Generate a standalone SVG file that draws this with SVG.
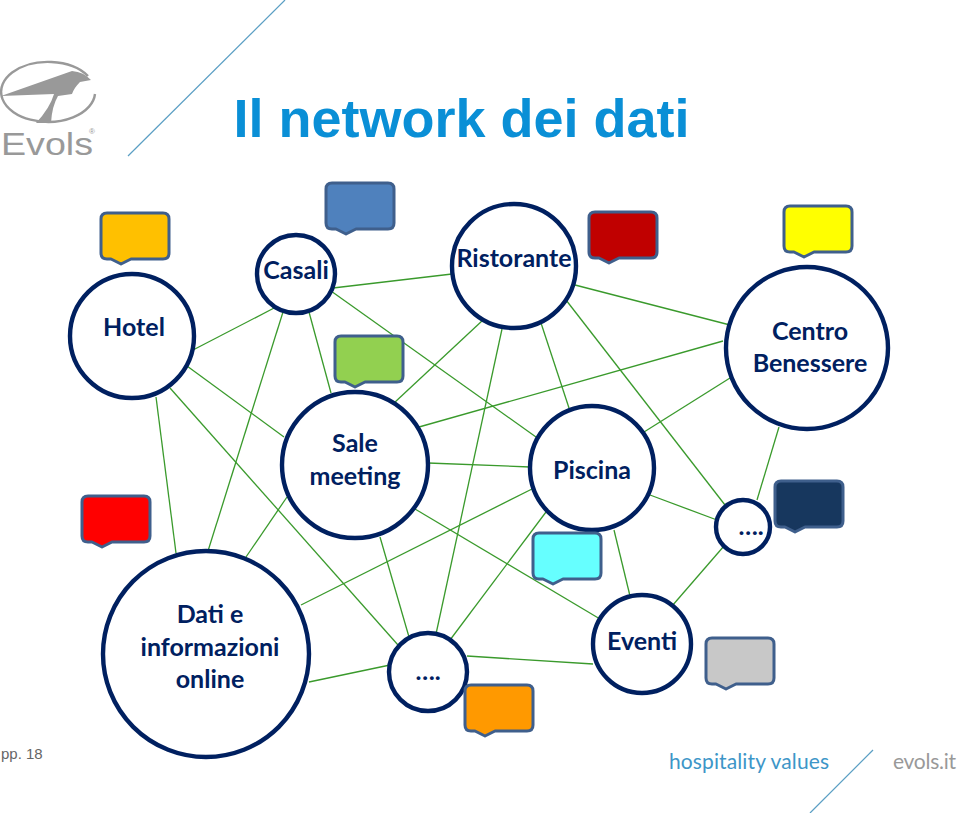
<svg xmlns="http://www.w3.org/2000/svg" width="960" height="813" viewBox="0 0 960 813">
<style>
.n{fill:#fff;stroke:#002060;stroke-width:4.4}
.e line{stroke:#3a9a2c;stroke-width:1.3}
.t{font-family:"Lato","Open Sans",sans-serif;font-weight:700;font-size:25px;fill:#002060;text-anchor:middle}
.c{stroke:#3f5f8c;stroke-width:3;stroke-linejoin:round}
.d{stroke:#5b9fc4;stroke-width:1.2}
</style>
<defs>
<path id="cb" d="M6 0H62Q68 0 68 6V40Q68 46 62 46H30L20 51L10 46H6Q0 46 0 40V6Q0 0 6 0Z"/>
</defs>
<rect width="960" height="813" fill="#fff"/>
<g id="logo">
<path d="M95 94A47 30 0 1 1 88 76" fill="none" stroke="#999" stroke-width="2.4"/>
<path d="M1 96L72 71Q84 72 91 80L80 82Q74 88 72 94L58 96Q52 106 51 123L36 123Q50 108 54 94Z" fill="#999"/>
<text x="1" y="155" font-family="Liberation Sans,sans-serif" font-size="31" fill="#999" textLength="92" lengthAdjust="spacingAndGlyphs">Evols</text>
<text x="92" y="134" font-family="Liberation Sans,sans-serif" font-size="8" fill="#999" text-anchor="middle">®</text>
</g>
<line class="d" x1="128" y1="156" x2="285" y2="0"/>
<text id="title" x="461.500" y="137" font-family="Liberation Sans,sans-serif" font-weight="700" font-size="54" fill="#0a8fd6" text-anchor="middle">Il network dei dati</text>
<g id="connectors" class="e">
<line x1="193" y1="350" x2="276" y2="307"/>
<line x1="187" y1="366" x2="284" y2="437"/>
<line x1="170" y1="388" x2="398" y2="645"/>
<line x1="156" y1="397" x2="176" y2="553"/>
<line x1="333" y1="288" x2="452" y2="274"/>
<line x1="309" y1="312" x2="331" y2="393"/>
<line x1="331" y1="291" x2="536" y2="437"/>
<line x1="283" y1="312" x2="208" y2="551"/>
<line x1="575" y1="285" x2="730" y2="325"/>
<line x1="483" y1="320" x2="394" y2="403"/>
<line x1="541" y1="323" x2="569" y2="408"/>
<line x1="566" y1="300" x2="725" y2="505"/>
<line x1="502" y1="329" x2="436" y2="634"/>
<line x1="723" y1="341" x2="419" y2="427"/>
<line x1="730" y1="378" x2="644" y2="432"/>
<line x1="779" y1="427" x2="757" y2="500"/>
<line x1="428" y1="463" x2="530" y2="467"/>
<line x1="415" y1="509" x2="600" y2="619"/>
<line x1="380" y1="537" x2="409" y2="637"/>
<line x1="287" y1="497" x2="246" y2="557"/>
<line x1="650" y1="495" x2="717" y2="520"/>
<line x1="614" y1="530" x2="630" y2="596"/>
<line x1="534" y1="488" x2="301" y2="605"/>
<line x1="546" y1="512" x2="450" y2="640"/>
<line x1="672" y1="606" x2="724" y2="546"/>
<line x1="593" y1="664" x2="467" y2="656"/>
<line x1="309" y1="682" x2="390" y2="665"/>
</g>
<g id="hotel"><circle class="n" cx="132" cy="336" r="62"/><text class="t" x="134" y="336">Hotel</text></g>
<g id="casali"><circle class="n" cx="296" cy="274" r="39"/><text class="t" x="296" y="279">Casali</text></g>
<g id="ristorante"><circle class="n" cx="514" cy="266" r="62"/><text class="t" x="514" y="267">Ristorante</text></g>
<g id="centro"><circle class="n" cx="807" cy="348" r="81"/><text class="t" x="810" y="340">Centro</text><text class="t" x="810" y="372">Benessere</text></g>
<g id="sale"><circle class="n" cx="355" cy="465" r="73"/><text class="t" x="355" y="452">Sale</text><text class="t" x="355" y="485">meeting</text></g>
<g id="piscina"><circle class="n" cx="592" cy="468" r="62"/><text class="t" x="592" y="479">Piscina</text></g>
<g id="altro1"><circle class="n" cx="743" cy="527" r="27"/><text class="t" x="751" y="535">….</text></g>
<g id="eventi"><circle class="n" cx="642" cy="644" r="49"/><text class="t" x="642" y="650">Eventi</text></g>
<g id="dati"><circle class="n" cx="206" cy="654" r="103"/><text class="t" x="210" y="623">Dati e</text><text class="t" x="210" y="656">informazioni</text><text class="t" x="210" y="688">online</text></g>
<g id="altro2"><circle class="n" cx="428" cy="672" r="39"/><text class="t" x="428" y="680">….</text></g>
<g id="callouts">
<use href="#cb" class="c" fill="#ffc000" x="101" y="213"/>
<use href="#cb" class="c" fill="#4f81bd" x="326" y="183"/>
<use href="#cb" class="c" fill="#c00000" x="589" y="212"/>
<use href="#cb" class="c" fill="#ffff00" x="784" y="206"/>
<use href="#cb" class="c" fill="#92d050" x="335" y="336"/>
<use href="#cb" class="c" fill="#17375e" x="775" y="481"/>
<use href="#cb" class="c" fill="#ff0000" x="82" y="496"/>
<use href="#cb" class="c" fill="#66ffff" x="533" y="533"/>
<use href="#cb" class="c" fill="#c8c8c8" x="706" y="638"/>
<use href="#cb" class="c" fill="#ff9900" x="465" y="685"/>
</g>
<text x="1" y="759" font-family="Liberation Sans,sans-serif" font-size="15" fill="#666">pp. 18</text>
<text x="669" y="769" font-family="Lato,sans-serif" font-size="21" fill="#3d96c8" textLength="160">hospitality values</text>
<line class="d" x1="810" y1="813" x2="873" y2="750" stroke-width="1"/>
<text x="893" y="769" font-family="Lato,sans-serif" font-size="21" fill="#999" textLength="63">evols.it</text>
</svg>
